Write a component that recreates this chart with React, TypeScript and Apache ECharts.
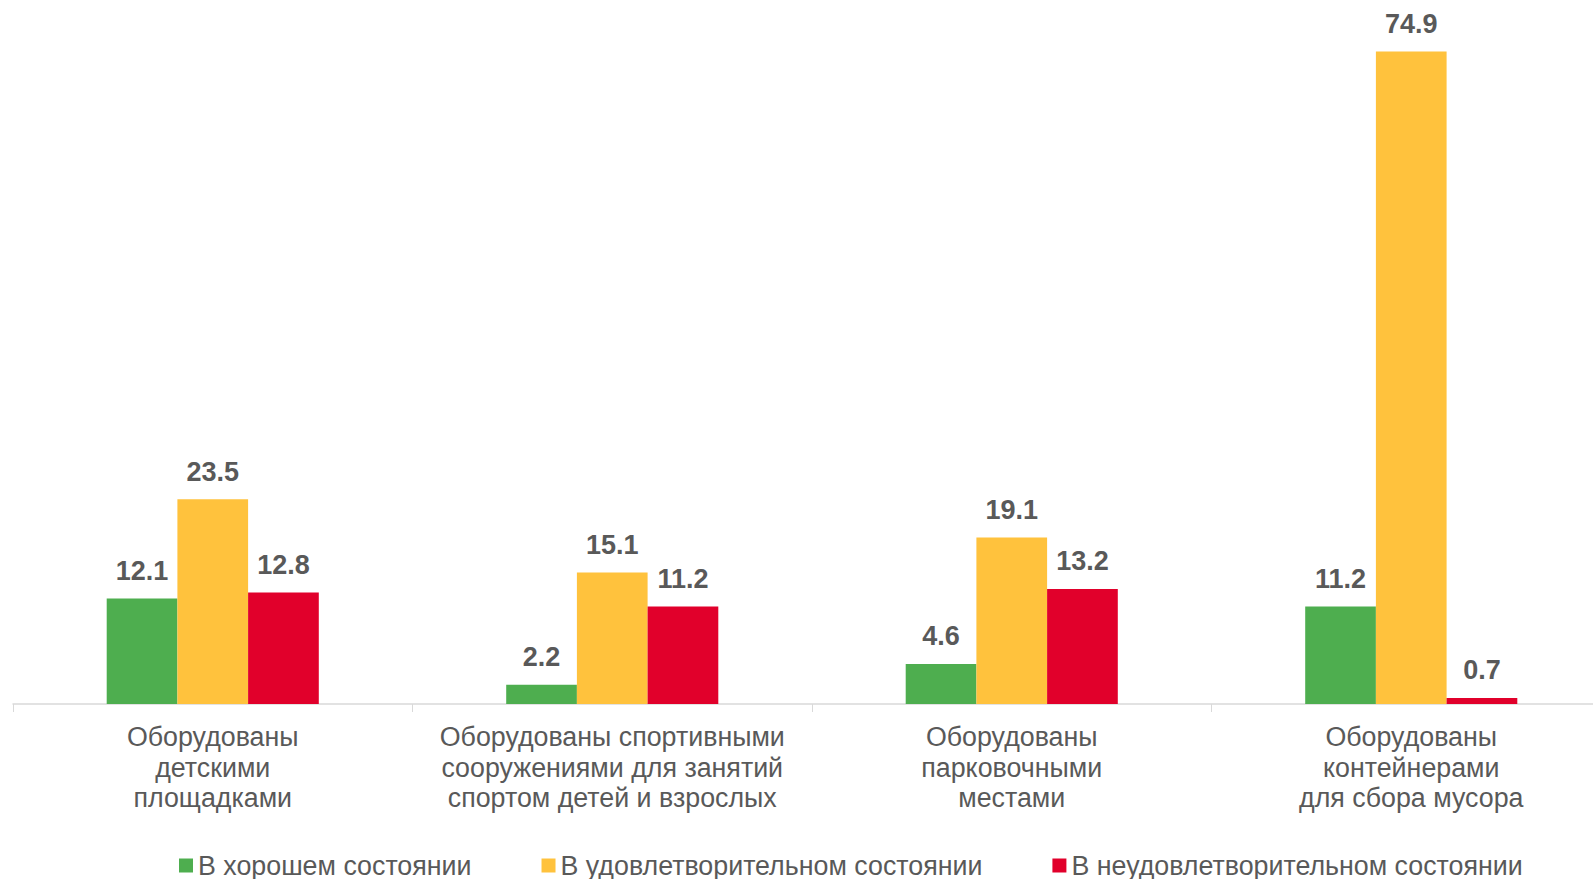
import React, { useEffect, useRef } from "react";
import * as echarts from "echarts";

const categories = [
  "Оборудованы\nдетскими\nплощадками",
  "Оборудованы спортивными\nсооружениями для занятий\nспортом детей и взрослых",
  "Оборудованы\nпарковочными\nместами",
  "Оборудованы\nконтейнерами\nдля сбора мусора",
];
const seriesNames = [
  "В хорошем состоянии",
  "В удовлетворительном состоянии",
  "В неудовлетворительном состоянии",
];
const goodValues = [12.1, 2.2, 4.6, 11.2];
const satisfactoryValues = [23.5, 15.1, 19.1, 74.9];
const badValues = [12.8, 11.2, 13.2, 0.7];
const colors = ["#4EAE4F", "#FFC23D", "#E1002B"];

const FONT = '"Liberation Sans", Arial, sans-serif';

export default function App() {
  const ref = useRef<HTMLDivElement>(null);
  useEffect(() => {
    if (!ref.current) return;
    const chart = echarts.init(ref.current, null, { renderer: "svg" });
    const dataSets = [goodValues, satisfactoryValues, badValues];
    chart.setOption({
      animation: false,
      textStyle: { fontFamily: FONT },
      grid: { left: 13, right: 9, top: 7, bottom: 175, containLabel: false },
      legend: {
        left: 179,
        top: 852,
        padding: 0,
        itemWidth: 14,
        itemHeight: 14,
        itemGap: 70,
        icon: "rect",
        textStyle: { fontSize: 26.8, lineHeight: 26, color: "#595959", fontFamily: FONT },
        data: seriesNames,
      },
      xAxis: {
        type: "category",
        data: categories,
        axisLine: { lineStyle: { color: "#D9D9D9", width: 1.5 } },
        axisTick: { show: true, length: 8, lineStyle: { color: "#D9D9D9" } },
        axisLabel: {
          fontSize: 26.8,
          lineHeight: 30.5,
          color: "#595959",
          margin: 18,
          interval: 0,
          fontFamily: FONT,
        },
      },
      yAxis: { type: "value", min: 0, max: 80, show: false, splitLine: { show: false } },
      series: seriesNames.map((name, i) => ({
        name,
        type: "bar",
        data: dataSets[i],
        barWidth: 70.7,
        barGap: "0%",
        itemStyle: { color: colors[i] },
        label: {
          show: true,
          position: "top",
          distance: 14,
          fontSize: 27,
          fontWeight: "bold",
          color: "#595959",
          fontFamily: FONT,
          formatter: (p: any) => p.value.toFixed(1),
        },
      })),
    });
    return () => chart.dispose();
  }, []);
  return (
    <div
      style={{
        position: "fixed",
        left: 0,
        top: 0,
        width: 1593,
        height: 879,
        overflow: "hidden",
        background: "#fff",
      }}
    >
      <div ref={ref} style={{ width: 1620, height: 879 }} />
    </div>
  );
}
